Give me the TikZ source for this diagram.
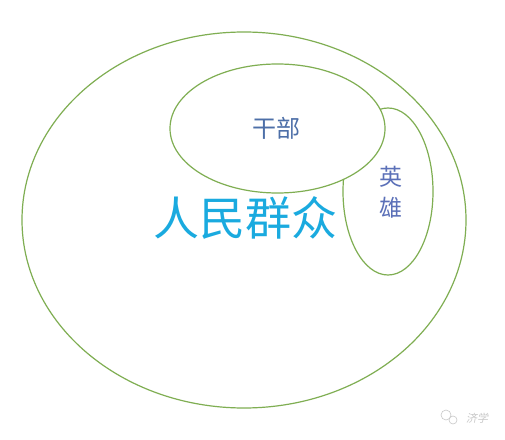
\documentclass[tikz,border=0pt]{standalone}
\usepackage{fontspec}
\newfontfamily\cjk{Noto Sans CJK SC}
\definecolor{lineg}{HTML}{7FAE52}
\definecolor{cyanT}{HTML}{1AAADF}
\definecolor{steelT}{HTML}{4D6FA8}
\definecolor{heroT}{HTML}{5B70B8}
\definecolor{wm}{HTML}{C8C8C8}
\begin{document}
\begin{tikzpicture}[x=1pt,y=1pt,
  ring/.style={draw=lineg,fill=white,line width=1.2pt},
  lbl/.style={font=\cjk,inner sep=0pt}]
\useasboundingbox[fill=white] (0,0) rectangle (505,439);
\draw[ring] (244,{439-220}) ellipse [x radius=222,y radius=188];
\draw[ring] (388,{439-191.5}) ellipse [x radius=45,y radius=83.5];
\draw[ring] (277.5,{439-128.5}) ellipse [x radius=107.5,y radius=64.5];
\node[lbl,text=cyanT,font=\cjk\fontsize{46}{50}\selectfont] (masses) at (245,{439-218}) {人民群众};
\node[lbl,text=steelT,font=\cjk\fontsize{24}{27}\selectfont] (cadre) at (276,{439-128}) {干部};
\node[lbl,text=heroT,font=\cjk\fontsize{23}{31}\selectfont,align=center] (hero) at (391,{439-192}) {英\\雄};
\draw[wm,line width=0.6pt] (446,{439-415}) circle (5);
\draw[wm,line width=0.6pt] (453,{439-420}) circle (4);
\node[lbl,text=wm,font=\cjk\fontsize{11}{13}\selectfont,xslant=0.2] (wmtext) at (478,{439-418}) {济学};
\end{tikzpicture}
\end{document}
